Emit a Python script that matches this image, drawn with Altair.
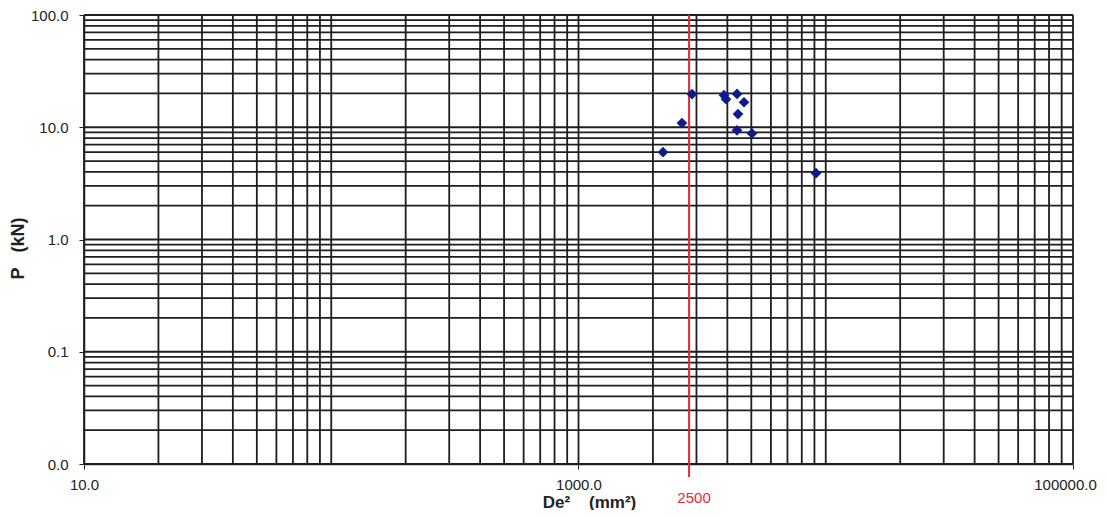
import altair as alt
import pandas as pd

# Data points (De^2 in mm^2, P in kN)
de2 = [2197, 2621, 2877, 3877, 3950, 4375, 4671, 4416, 4375, 5031, 9131]
p_kn = [6.0, 10.9, 19.7, 19.3, 17.8, 19.8, 16.7, 13.1, 9.4, 8.8, 3.9]

# Gridline positions (log paper)
x_grid = [10, 20, 30, 40, 50, 60, 70, 80, 90,
          100, 200, 300, 400, 500, 600, 700, 800, 900,
          1000, 2000, 3000, 4000, 5000, 6000, 7000, 8000, 9000,
          10000, 20000, 30000, 40000, 50000, 60000, 70000, 80000, 90000,
          100000]
y_grid = [0.01, 0.02, 0.03, 0.04, 0.05, 0.06, 0.07, 0.08, 0.09,
          0.1, 0.2, 0.3, 0.4, 0.5, 0.6, 0.7, 0.8, 0.9,
          1, 2, 3, 4, 5, 6, 7, 8, 9,
          10, 20, 30, 40, 50, 60, 70, 80, 90,
          100]

x_ticks = [10, 1000, 100000]
y_ticks = [0.01, 0.1, 1, 10, 100]

limit_x = [2800]
limit_label = ["2500"]

pts = pd.DataFrame({"De2": de2, "P": p_kn})
xg = pd.DataFrame({"v": x_grid})
yg = pd.DataFrame({"v": y_grid})
lim = pd.DataFrame({"v": limit_x, "lab": limit_label})

FONT = "Liberation Sans"
GRID = "#1e1e1e"

xscale = alt.Scale(type="log", domain=[10, 100000])
yscale = alt.Scale(type="log", domain=[0.01, 100])

xaxis = alt.Axis(values=x_ticks, format=".1f", grid=False, labelFontSize=15,
                 labelColor="#222222", labelFont=FONT, tickSize=5, labelPadding=8,
                 labelOffset={"condition": {"test": "datum.value >= 100000", "value": -8},
                              "value": 0},
                 domainColor="#222222", tickColor="#222222", domainWidth=1.5,
                 title="De²\u00a0\u00a0\u00a0\u00a0(mm²)", titleFont=FONT, titleFontSize=17,
                 titleFontWeight="bold", titleColor="#222222",
                 titleX=505, titleY=38, titleBaseline="middle", titleAnchor="middle",
                 labelFlush=False, labelOverlap=False)
yaxis = alt.Axis(values=y_ticks, format=".1f", grid=False, labelFontSize=15,
                 labelColor="#222222", labelFont=FONT, tickSize=5, labelPadding=11,
                 domainColor="#222222", tickColor="#222222", domainWidth=1.5,
                 title="P\u00a0\u00a0\u00a0(kN)", titleFont=FONT, titleFontSize=18,
                 titleFontWeight="bold", titleColor="#222222",
                 titleX=-66, titleY=233, titleBaseline="middle", titleAngle=-90,
                 labelFlush=False, labelOverlap=False)

vgrid = alt.Chart(xg).mark_rule(color=GRID, strokeWidth=1.8).encode(
    x=alt.X("v:Q", scale=xscale, axis=xaxis)
)
hgrid = alt.Chart(yg).mark_rule(color=GRID, strokeWidth=1.8).encode(
    y=alt.Y("v:Q", scale=yscale, axis=yaxis)
)
red = alt.Chart(lim).mark_rule(color="#e8283a", strokeWidth=2).encode(
    x=alt.X("v:Q", scale=xscale),
    y=alt.value(0), y2=alt.value(462)
)
redtxt = alt.Chart(lim).mark_text(color="#e8283a", fontSize=15, font=FONT, dx=5,
                                  baseline="middle", align="center").encode(
    x=alt.X("v:Q", scale=xscale),
    y=alt.value(483),
    text="lab:N"
)
points = alt.Chart(pts).mark_point(shape="diamond", filled=True, size=115,
                                   color="#0c1c8c", opacity=1).encode(
    x=alt.X("De2:Q", scale=xscale),
    y=alt.Y("P:Q", scale=yscale)
)

chart = alt.layer(vgrid, hgrid, red, points, redtxt).properties(
    width=989, height=449,
    autosize=alt.AutoSizeParams(type="none"),
    padding={"left": 76, "top": 7, "right": 25, "bottom": 46},
    background="white"
).configure_view(stroke=None)

chart.save("out.html", embed_options={"renderer": "svg", "actions": False})
